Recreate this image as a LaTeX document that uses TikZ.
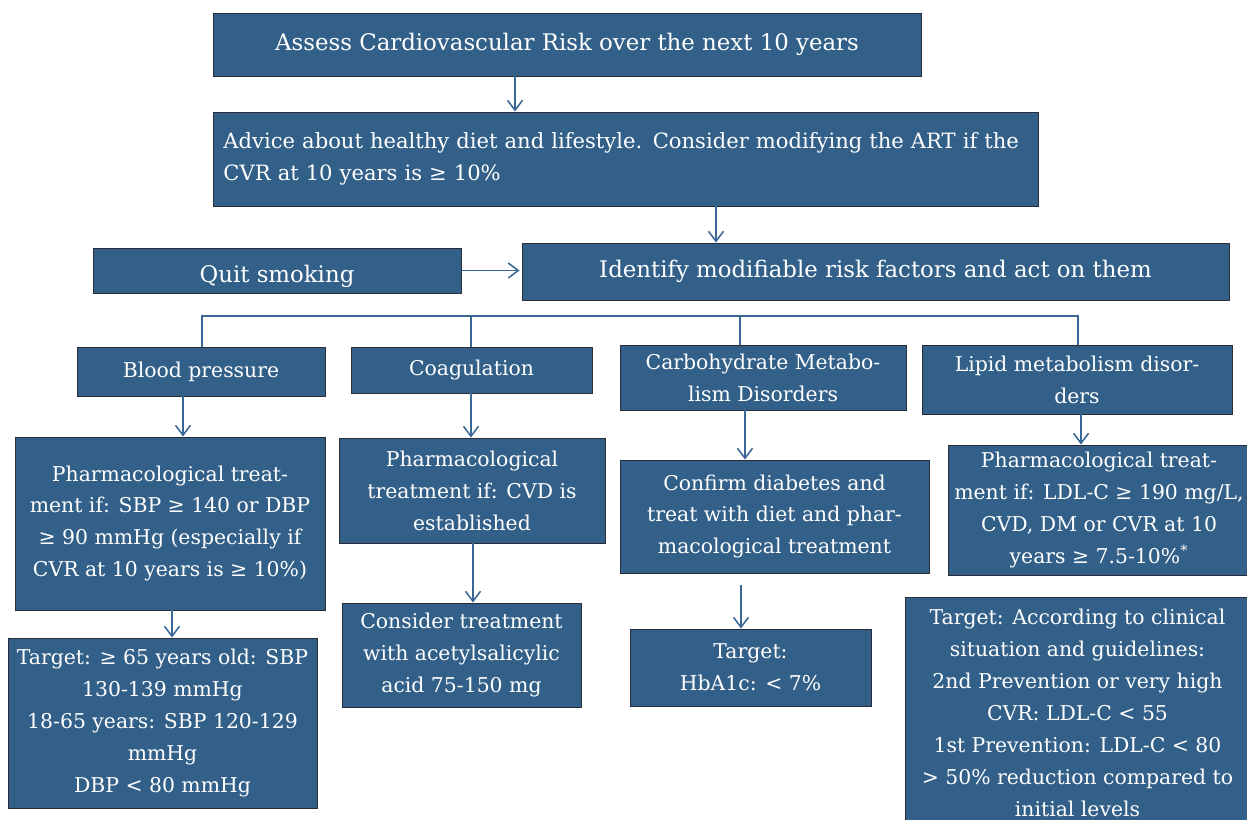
\documentclass[tikz,border=0pt]{standalone}
\usepackage{fontspec}
\setmainfont{DejaVu Serif}
\usepackage{tikz}
\usetikzlibrary{arrows.meta,positioning,calc}
\definecolor{cvrblue} {RGB}{51, 96,136}
\definecolor{cvrline} {RGB}{58,104,150}
\definecolor{cvredge} {RGB}{40, 45, 55}
\tikzset{
  box/.style={draw=cvredge,fill=cvrblue,line width=0.5pt,
              text=white,align=center,inner sep=2pt,
              font=\fontsize{11.6}{18.2}\selectfont},
  bigbox/.style={box,font=\fontsize{13}{18.2}\selectfont},
  arr/.style={-{Straight Barb[length=2mm,width=3mm]},line width=0.9pt,color=cvrline},
  branch/.style={line width=1.1pt,color=cvrline},
}

\begin{document}
\begin{tikzpicture}[x=0.2mm,y=-0.2mm]
  \useasboundingbox (0,0) rectangle (1247,819);
  \clip (0,0) rectangle (1247,819);
  % Top row
  \node[bigbox,minimum width=141.6mm,minimum height=12.6mm](risk) at (567,44.5){Assess Cardiovascular Risk over the next 10 years};
  \node[box,minimum width=165mm,minimum height=18.8mm,align=left,text width=161mm,font=\fontsize{12}{18.2}\selectfont](advice) at (626,159)
    {Advice about healthy diet and lifestyle. Consider modifying the ART if the\\CVR at 10 years is ≥ 10\%};
  \node[bigbox,minimum width=141.4mm,minimum height=11.4mm](ident) at (875.5,271.5){Identify modifiable risk factors and act on them};
  \node[bigbox,minimum width=73.6mm,minimum height=9mm](quit) at (277,270.5){\raisebox{-2.4mm}[0pt][0pt]{Quit smoking}};
  % Risk factors
  \node[box,minimum width=49.6mm,minimum height=9.8mm](bp) at (201,371.5){Blood pressure};
  \node[box,minimum width=48.2mm,minimum height=9.2mm](coag) at (471.5,370){Coagulation};
  \node[box,minimum width=57.2mm,minimum height=13mm](carb) at (763,377.5){Carbohydrate Metabo-\\lism Disorders};
  \node[box,minimum width=62mm,minimum height=13.8mm](lipid) at (1077,379.5){Lipid metabolism disor-\\ders};
  % Treatment
  \node[box,minimum width=62mm,minimum height=34.6mm](bptreat) at (170,523.5)
    {Pharmacological treat-\\ment if: SBP ≥ 140 or DBP\\≥ 90 mmHg (especially if\\CVR at 10 years is ≥ 10\%)};
  \node[box,minimum width=53.2mm,minimum height=21mm](coagtreat) at (472,490.5)
    {Pharmacological\\treatment if: CVD is\\established};
  \node[box,minimum width=61.8mm,minimum height=22.6mm](carbtreat) at (774.5,516.5)
    {Confirm diabetes and\\treat with diet and phar-\\macological treatment};
  \node[box,minimum width=60.4mm,minimum height=26mm](liptreat) at (1099,510)
    {Pharmacological treat-\\ment if: LDL-C ≥ 190 mg/L,\\CVD, DM or CVR at 10\\years ≥ 7.5-10\%\textsuperscript{*}};
  % Targets
  \node[box,minimum width=61.8mm,minimum height=34mm](bptarget) at (162.5,723)
    {Target: ≥ 65 years old: SBP\\130-139 mmHg\\18-65 years: SBP 120-129\\mmHg\\DBP < 80 mmHg};
  \node[box,minimum width=47.8mm,minimum height=20.8mm](coagasa) at (461.5,655)
    {Consider treatment\\with acetylsalicylic\\acid 75-150 mg};
  \node[box,minimum width=48.2mm,minimum height=15.4mm](carbtarget) at (750.5,667.5)
    {Target:\\HbA1c: < 7\%};
  \node[box,minimum width=69mm,minimum height=46.4mm](liptarget) at (1077.5,713)
    {Target: According to clinical\\situation and guidelines:\\2nd Prevention or very high\\CVR: LDL-C < 55\\1st Prevention: LDL-C < 80\\> 50\% reduction compared to\\initial levels};

  % Helper coordinates
  \coordinate (xa) at (515,0);
  \coordinate (xb) at (716,0);
  \coordinate (bbar) at (202,316);
  \coordinate (gbar) at (471,316);
  \coordinate (cbar) at (740,316);
  \coordinate (lbar) at (1078,316);
  \coordinate (xbp) at (183,0);
  \coordinate (xcarb) at (745,0);
  \coordinate (xlip) at (1081,0);
  \coordinate (xbpt) at (172,0);
  \coordinate (xcoag) at (473,0);
  \coordinate (cfree) at (741,585);

  % Arrows
  \draw[arr](risk.south -| xa)--(advice.north -| xa);
  \draw[arr](advice.south -| xb)--(ident.north -| xb);
  \draw[arr](quit.east)--([xshift=-0.4mm]ident.west |- quit.east);
  \draw[branch](bbar |- bp.north)--(bbar)--(lbar)--(lbar |- lipid.north);
  \draw[branch](gbar)--(gbar |- coag.north);
  \draw[branch](cbar)--(cbar |- carb.north);
  \draw[arr](coag.south -| gbar)--(coagtreat.north -| gbar);
  \draw[arr](bp.south -| xbp)--(bptreat.north -| xbp);
  \draw[arr](carb.south -| xcarb)--(carbtreat.north -| xcarb);
  \draw[arr](lipid.south -| xlip)--(liptreat.north -| xlip);
  \draw[arr](bptreat.south -| xbpt)--(bptarget.north -| xbpt);
  \draw[arr](coagtreat.south -| xcoag)--(coagasa.north -| xcoag);
  \draw[arr](cfree)--(cfree |- carbtarget.north);
\end{tikzpicture}
\end{document}
